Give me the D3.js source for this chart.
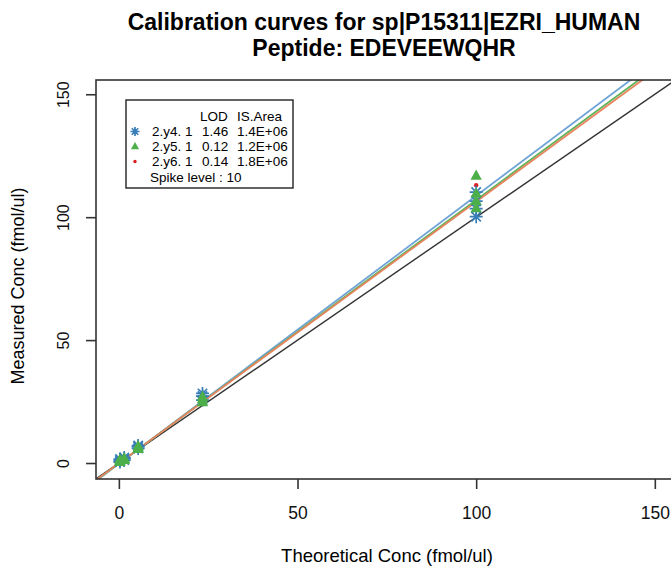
<!DOCTYPE html>
<html>
<head>
<meta charset="utf-8">
<script src="https://cdn.jsdelivr.net/npm/d3@7"></script>
<style>
  body { margin: 0; background: #fff; }
  text { font-family: "Liberation Sans", Arial, sans-serif; }
</style>
</head>
<body>
<svg id="chart" width="671" height="567"></svg>
<script>
// theoretical concentration for every replicate
var theoretical = [0.3, 0.3, 0.3, 1.5, 1.5, 1.5, 5.4, 5.4, 5.4, 23.4, 23.4, 23.4, 100, 100, 100, 100];
// measured concentration per transition
var y4Measured = [0.4, 0.9, 1.6, 1.8, 2.2, 1.2, 5.9, 6.6, 7.1, 25.6, 27.2, 28.3, 100.2, 103.5, 106.5, 110.2];
var y5Measured = [0.3, 0.7, 1.3, 1.5, 1.9, 1.1, 5.6, 6.1, 6.8, 24.6, 25.8, 26.9, 103.5, 106.5, 109.5, 116.8];
var y6Measured = [0.3, 0.8, 1.4, 1.6, 2.0, 1.2, 5.7, 6.2, 6.9, 24.9, 26.1, 27.0, 104, 107, 110, 113];

var transitions = ["2.y4. 1", "2.y5. 1", "2.y6. 1"];
var lodValues = ["1.46", "0.12", "0.14"];
var isArea = ["1.4E+06", "1.2E+06", "1.8E+06"];
var fitSlopes = [1.09, 1.072, 1.064];
var fitIntercepts = [-0.3, -0.2, -0.1];
var xTicks = [0, 50, 100, 150];
var yTicks = [0, 50, 100, 150];

var pointColors = ["#377eb8", "#4daf4a", "#e41a1c"];
var lineColors = ["#6fa3d6", "#5db45a", "#e8845e"];

var svg = d3.select("#chart");

var pLeft = 96, pTop = 80, pBottom = 479;
var x = d3.scaleLinear().domain([-6.4, 156.3]).range([pLeft, pLeft + 162.7 * 3.573]);
var y = d3.scaleLinear().domain([-6.5, 155.8]).range([pBottom, pTop]);
var pRight = x.range()[1];

svg.append("clipPath").attr("id", "plotclip")
  .append("rect")
    .attr("x", pLeft).attr("y", pTop)
    .attr("width", pRight - pLeft).attr("height", pBottom - pTop);

var plot = svg.append("g").attr("clip-path", "url(#plotclip)");

// identity line
plot.append("line")
  .attr("x1", x(-10)).attr("y1", y(-10))
  .attr("x2", x(200)).attr("y2", y(200))
  .attr("stroke", "#333").attr("stroke-width", 1.4);

// fitted lines
fitSlopes.forEach((s, i) => {
  plot.append("line")
    .attr("x1", x(-10)).attr("y1", y(fitIntercepts[i] - 10 * s))
    .attr("x2", x(200)).attr("y2", y(fitIntercepts[i] + 200 * s))
    .attr("stroke", lineColors[i]).attr("stroke-width", 1.8);
});

function star(g, cx, cy, r, col) {
  var d = r * 0.72;
  g.append("path")
    .attr("d", "M" + (cx - r) + "," + cy + "H" + (cx + r) +
      "M" + cx + "," + (cy - r) + "V" + (cy + r) +
      "M" + (cx - d) + "," + (cy - d) + "L" + (cx + d) + "," + (cy + d) +
      "M" + (cx - d) + "," + (cy + d) + "L" + (cx + d) + "," + (cy - d))
    .attr("stroke", col).attr("stroke-width", 1.7).attr("fill", "none");
}
function tri(g, cx, cy, r, col) {
  g.append("path")
    .attr("d", "M" + cx + "," + (cy - r) + "L" + (cx + r * 0.9) + "," + (cy + r * 0.6) +
      "L" + (cx - r * 0.9) + "," + (cy + r * 0.6) + "Z")
    .attr("fill", col);
}
function dot(g, cx, cy, r, col) {
  g.append("circle").attr("cx", cx).attr("cy", cy).attr("r", r).attr("fill", col);
}

// red dots sit underneath the other markers
theoretical.forEach((t, i) => dot(plot, x(t), y(y6Measured[i]), 2.2, pointColors[2]));
theoretical.forEach((t, i) => star(plot, x(t), y(y4Measured[i]), 6.5, pointColors[0]));
theoretical.forEach((t, i) => tri(plot, x(t), y(y5Measured[i]), 6.3, pointColors[1]));

// frame
svg.append("rect")
  .attr("x", pLeft).attr("y", pTop)
  .attr("width", pRight - pLeft).attr("height", pBottom - pTop)
  .attr("fill", "none").attr("stroke", "#333").attr("stroke-width", 1.6);

// axes
var xAxis = svg.append("g")
  .attr("transform", "translate(0," + pBottom + ")")
  .call(d3.axisBottom(x).tickValues(xTicks).tickSize(10).tickPadding(18));
var yAxis = svg.append("g")
  .attr("transform", "translate(" + pLeft + ",0)")
  .call(d3.axisLeft(y).tickValues(yTicks).tickSize(10).tickPadding(0));
[xAxis, yAxis].forEach(a => {
  a.select(".domain").remove();
  a.selectAll(".tick line").attr("stroke", "#333").attr("stroke-width", 1.6);
  a.selectAll(".tick text").attr("fill", "#111").attr("font-family", "Liberation Sans, Arial, sans-serif");
});
xAxis.selectAll(".tick text").attr("font-size", 17.5);
yAxis.selectAll(".tick text")
  .attr("font-size", 16)
  .attr("x", 0).attr("dy", 0)
  .attr("text-anchor", "middle")
  .attr("transform", "translate(-27,0) rotate(-90)");

// titles
svg.append("text").attr("x", 384).attr("y", 30)
  .attr("text-anchor", "middle").attr("font-size", 23).attr("font-weight", "bold")
  .text("Calibration curves for sp|P15311|EZRI_HUMAN");
svg.append("text").attr("x", 384).attr("y", 56)
  .attr("text-anchor", "middle").attr("font-size", 23).attr("font-weight", "bold")
  .text("Peptide: EDEVEEWQHR");
svg.append("text").attr("x", 387).attr("y", 562)
  .attr("text-anchor", "middle").attr("font-size", 18.5)
  .text("Theoretical Conc (fmol/ul)");
svg.append("text")
  .attr("transform", "translate(24,286) rotate(-90)")
  .attr("text-anchor", "middle").attr("font-size", 18)
  .text("Measured Conc (fmol/ul)");

// legend
var lg = svg.append("g");
lg.append("rect").attr("x", 126).attr("y", 100).attr("width", 167).attr("height", 88)
  .attr("fill", "#fff").attr("stroke", "#222").attr("stroke-width", 1.4);
lg.append("text").attr("x", 200).attr("y", 121).attr("font-size", 13.5).text("LOD");
lg.append("text").attr("x", 237).attr("y", 121).attr("font-size", 13.5).text("IS.Area");
var markers = [star, tri, dot];
var sizes = [4.5, 4.5, 1.7];
transitions.forEach((tr, i) => {
  var ry = 136 + i * 15;
  markers[i](lg, 135, ry - 4.5, sizes[i], pointColors[i]);
  lg.append("text").attr("x", 152).attr("y", ry).attr("font-size", 13.5).text(tr);
  lg.append("text").attr("x", 202).attr("y", ry).attr("font-size", 13.5).text(lodValues[i]);
  lg.append("text").attr("x", 237).attr("y", ry).attr("font-size", 13.5).text(isArea[i]);
});
lg.append("text").attr("x", 150).attr("y", 182).attr("font-size", 13.5).text("Spike level : 10");
</script>
</body>
</html>
